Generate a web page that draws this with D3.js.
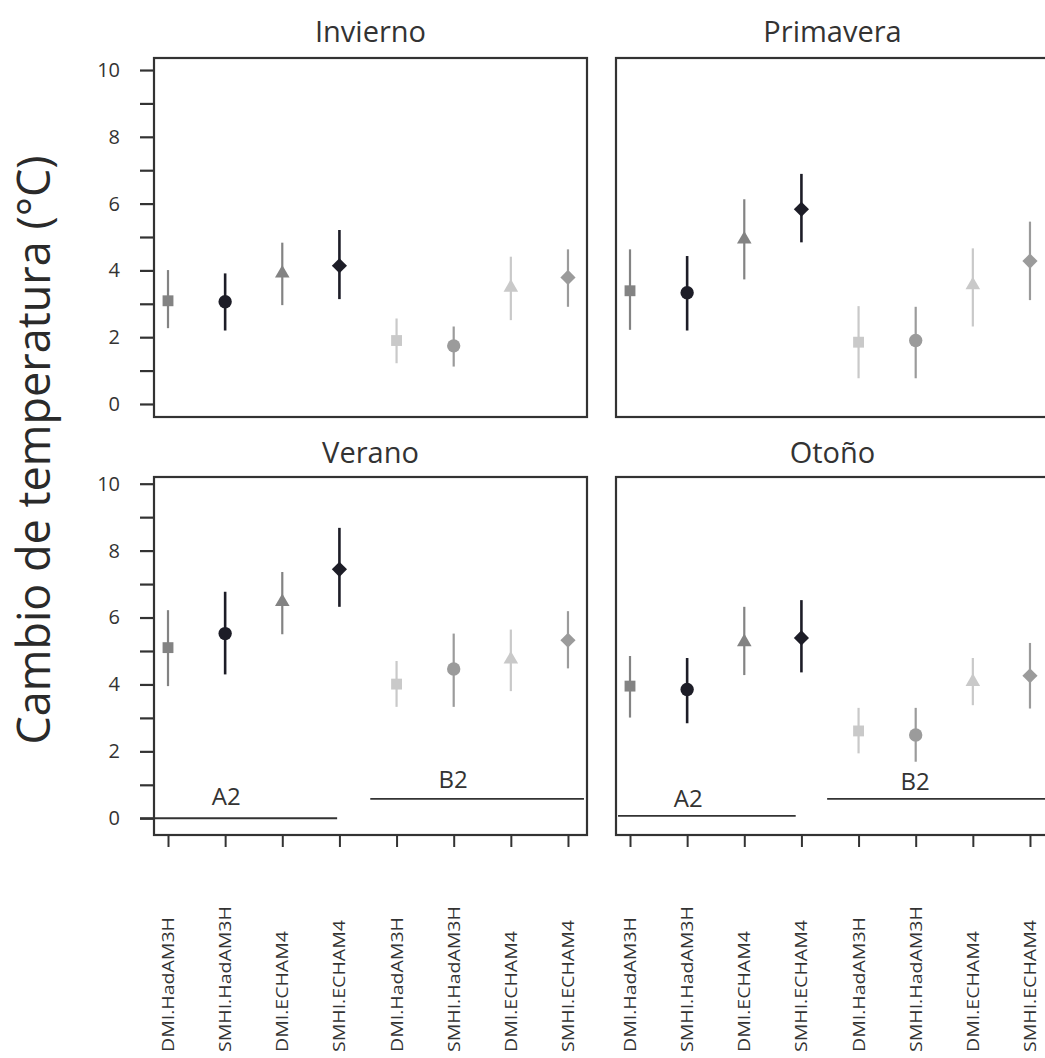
<!DOCTYPE html>
<html>
<head>
<meta charset="utf-8">
<script src="https://cdn.jsdelivr.net/npm/d3@7"></script>
<style>
  body { margin: 0; background: #fff; overflow: hidden; }
  svg { display: block; font-family: "Open Sans", sans-serif; }
</style>
</head>
<body>
<svg id="chart" width="1045" height="1058"></svg>
<script>
// models along the x axis of every panel (A2 block then B2 block)
const models = ['DMI.HadAM3H', 'SMHI.HadAM3H', 'DMI.ECHAM4', 'SMHI.ECHAM4',
                'DMI.HadAM3H', 'SMHI.HadAM3H', 'DMI.ECHAM4', 'SMHI.ECHAM4'];
const seasons = ['Invierno', 'Primavera', 'Verano', 'Otoño'];
const yTicks = [0, 1, 2, 3, 4, 5, 6, 7, 8, 9, 10];

// mean change and range (low / high) per season
const invierno   = [3.09, 3.06, 3.91, 4.14, 1.90, 1.74, 3.49, 3.79];
const inviernoLo = [2.27, 2.20, 2.96, 3.14, 1.22, 1.12, 2.51, 2.91];
const inviernoHi = [4.01, 3.91, 4.83, 5.21, 2.56, 2.32, 4.41, 4.63];

const primavera   = [3.39, 3.33, 4.93, 5.83, 1.85, 1.90, 3.56, 4.28];
const primaveraLo = [2.22, 2.20, 3.73, 4.84, 0.77, 0.77, 2.32, 3.11];
const primaveraHi = [4.63, 4.43, 6.13, 6.89, 2.93, 2.91, 4.66, 5.46];

const verano   = [5.10, 5.52, 6.47, 7.44, 4.01, 4.46, 4.75, 5.32];
const veranoLo = [3.95, 4.30, 5.50, 6.32, 3.33, 3.33, 3.80, 4.48];
const veranoHi = [6.22, 6.77, 7.36, 8.68, 4.70, 5.52, 5.64, 6.19];

const otono   = [3.95, 3.85, 5.27, 5.39, 2.61, 2.49, 4.08, 4.26];
const otonoLo = [3.01, 2.84, 4.28, 4.36, 1.94, 1.69, 3.38, 3.28];
const otonoHi = [4.85, 4.79, 6.32, 6.52, 3.30, 3.30, 4.79, 5.24];

// scenario brackets (A2 / B2) drawn inside the lower panels
const bracketSeason = ['Verano', 'Verano', 'Otoño', 'Otoño'];
const bracketLabel  = ['A2', 'B2', 'A2', 'B2'];
const bracketY      = [0, 0.58, 0.07, 0.58];
const bracketFrom   = [-0.49, 3.54, -0.21, 3.45];
const bracketTo     = [2.96, 7.28, 2.90, 7.80];
const bracketTextX  = [1.02, 4.99, 1.02, 4.99];
const bracketTextY  = [0.40, 0.90, 0.35, 0.84];

// styles per model
const shapes = ['square', 'circle', 'triangle', 'diamond', 'square', 'circle', 'triangle', 'diamond'];
const colors = ['#838383', '#1d1d27', '#838383', '#1d1d27', '#c9c9c9', '#9b9b9b', '#c9c9c9', '#9b9b9b'];

const seriesBySeason = {
  'Invierno':  [invierno, inviernoLo, inviernoHi],
  'Primavera': [primavera, primaveraLo, primaveraHi],
  'Verano':    [verano, veranoLo, veranoHi],
  'Otoño':     [otono, otonoLo, otonoHi]
};

const svg = d3.select('#chart');
const panelW = 433;
const colX = [154, 616];
const rowsCfg = [
  { top: 58, bottom: 417, lo: -0.39, hi: 10.36, titleY: 41.7 },
  { top: 477, bottom: 835, lo: -0.5, hi: 10.2, titleY: 463 }
];
const ink = '#333';

const x = d3.scalePoint()
    .domain(d3.range(models.length))
    .range([0, panelW])
    .padding(0.289)
    .align(0.424);
const xi = d3.scaleLinear().domain([0, 1]).range([x(0), x(1)]);

const symbolFor = {
  square:   d3.symbol().type(d3.symbolSquare).size(118),
  circle:   d3.symbol().type(d3.symbolCircle).size(140),
  triangle: d3.symbol().type(d3.symbolTriangle).size(92),
  diamond:  d3.symbol().type(d3.symbolSquare).size(115)
};

seasons.forEach((season, si) => {
  const row = Math.floor(si / 2), col = si % 2;
  const cfg = rowsCfg[row];
  const y = d3.scaleLinear().domain([cfg.lo, cfg.hi]).range([cfg.bottom, cfg.top]);
  const g = svg.append('g').attr('transform', 'translate(' + colX[col] + ',0)');

  g.append('text')
      .attr('x', panelW / 2)
      .attr('y', cfg.titleY)
      .attr('text-anchor', 'middle')
      .attr('font-size', 29)
      .attr('fill', ink)
      .text(season);

  // left axis only on the first column
  if (col === 0) {
    const ay = g.append('g')
        .call(d3.axisLeft(y).tickValues(yTicks).tickSize(14).tickPadding(20)
          .tickFormat(d => d % 2 === 0 ? d : ''));
    ay.select('.domain').remove();
    ay.selectAll('line').attr('stroke', ink).attr('stroke-width', 2.2);
    ay.selectAll('text').attr('font-size', 20).attr('fill', ink).attr('font-family', '"Open Sans", sans-serif');
  }

  // ticks + model labels only on the bottom row
  if (row === 1) {
    const ax = g.append('g')
        .attr('transform', 'translate(0,' + cfg.bottom + ')')
        .call(d3.axisBottom(x).tickSize(12).tickFormat(''));
    ax.select('.domain').remove();
    ax.selectAll('line').attr('stroke', ink).attr('stroke-width', 2);

    g.selectAll('.mlabel')
      .data(models)
      .enter().append('text')
        .attr('class', 'mlabel')
        .attr('transform', (d, i) => 'translate(' + x(i) + ',1052) rotate(-90) scale(1.15,1)')
        .attr('dy', '0.35em')
        .attr('font-size', 17)
        .attr('fill', ink)
        .text(d => d);
  }

  // scenario brackets
  bracketSeason.forEach((s, bi) => {
    if (s !== season) return;
    g.append('line')
        .attr('x1', xi(bracketFrom[bi])).attr('x2', xi(bracketTo[bi]))
        .attr('y1', y(bracketY[bi])).attr('y2', y(bracketY[bi]))
        .attr('stroke', ink).attr('stroke-width', 1.8);
    g.append('text')
        .attr('x', xi(bracketTextX[bi]))
        .attr('y', y(bracketTextY[bi]))
        .attr('text-anchor', 'middle')
        .attr('font-size', 24)
        .attr('fill', ink)
        .text(bracketLabel[bi]);
  });

  const [mean, lo, hi] = seriesBySeason[season];

  g.selectAll('.err')
    .data(mean)
    .enter().append('line')
      .attr('class', 'err')
      .attr('x1', (d, i) => x(i)).attr('x2', (d, i) => x(i))
      .attr('y1', (d, i) => y(lo[i])).attr('y2', (d, i) => y(hi[i]))
      .attr('stroke', (d, i) => colors[i])
      .attr('stroke-width', (d, i) => colors[i] === '#1d1d27' ? 2.6 : 2.2);

  g.selectAll('.pt')
    .data(mean)
    .enter().append('path')
      .attr('class', 'pt')
      .attr('d', (d, i) => symbolFor[shapes[i]]())
      .attr('transform', (d, i) => 'translate(' + x(i) + ',' + y(d) + ')' +
        (shapes[i] === 'diamond' ? ' rotate(45)' : ''))
      .attr('fill', (d, i) => colors[i]);

  // panel frame
  g.append('rect')
      .attr('x', 0).attr('y', cfg.top)
      .attr('width', panelW).attr('height', cfg.bottom - cfg.top)
      .attr('fill', 'none')
      .attr('stroke', ink)
      .attr('stroke-width', 2.2);
});

// shared y title
svg.append('text')
    .attr('transform', 'translate(50,450) rotate(-90)')
    .attr('text-anchor', 'middle')
    .attr('font-size', 45)
    .attr('fill', '#2a2a2a')
    .text('Cambio de temperatura (°C)');
</script>
</body>
</html>
